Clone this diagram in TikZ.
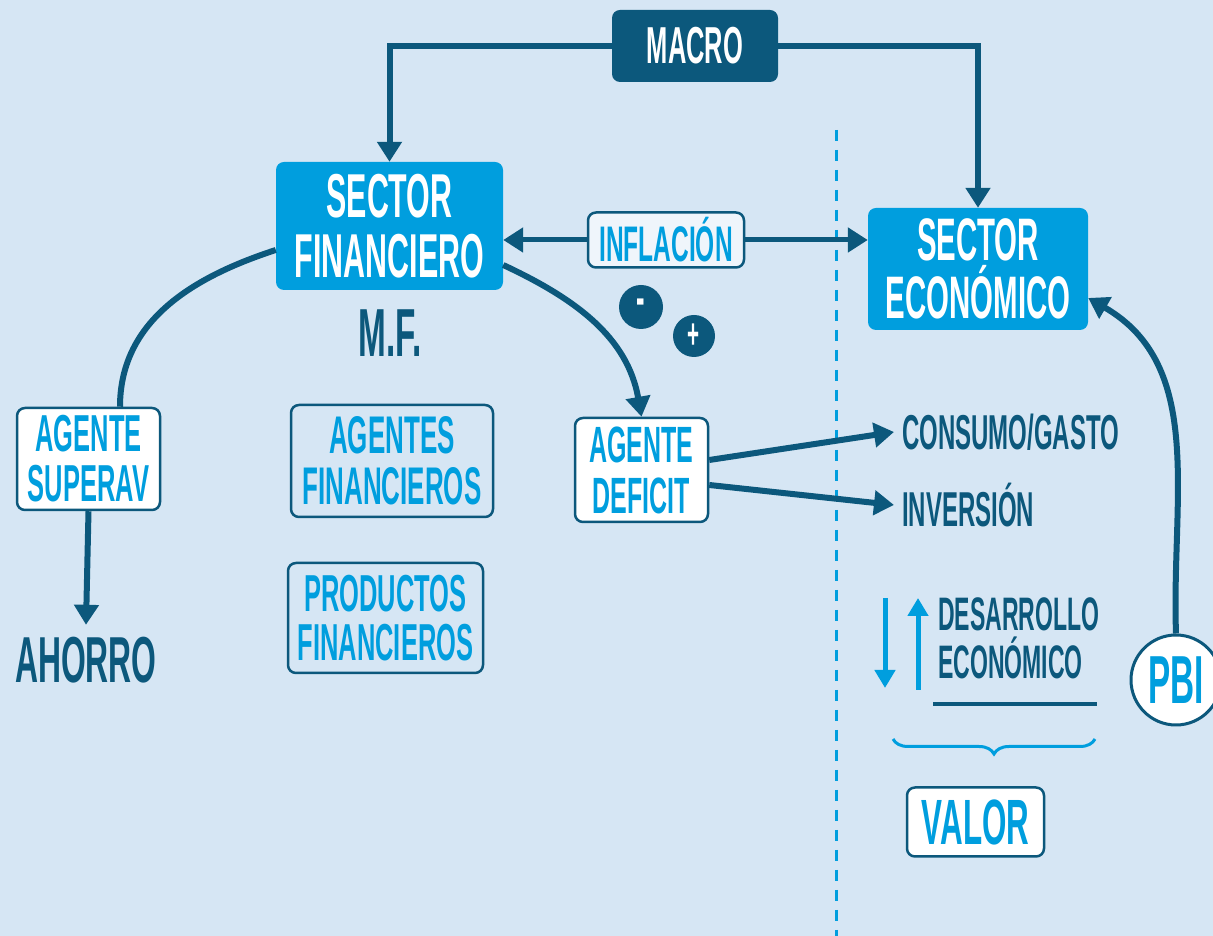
\documentclass[tikz,border=0pt]{standalone}
\usepackage{fontspec}
\setmainfont{Liberation Sans}[FakeStretch=0.49]
\usetikzlibrary{arrows.meta,decorations.pathreplacing,calc}
\definecolor{bgc}{RGB}{214,230,244}
\definecolor{dk}{RGB}{12,88,124}
\definecolor{br}{RGB}{0,158,222}
\newcommand\fs[2]{\fontsize{#1}{#2}\selectfont\bfseries}
\begin{document}
\begin{tikzpicture}[x=1pt,y=1pt,
  conn/.style={draw=dk, line width=6pt, -{Triangle[length=20pt,width=24pt]}},
  plainconn/.style={draw=dk, line width=6pt},
  mbox/.style={fill=dk, rounded corners=8pt, text=white, align=center, inner sep=0pt},
  bbox/.style={fill=br, rounded corners=8pt, text=white, align=center, inner sep=0pt},
  wbox/.style={fill=white, draw=dk, line width=2.5pt, rounded corners=8pt, text=br, align=center, inner sep=0pt},
  ibox/.style={fill=white!60!bgc, draw=dk, line width=2.5pt, rounded corners=8pt, text=br, align=center, inner sep=0pt},
  obox/.style={draw=dk, line width=2.5pt, rounded corners=8pt, text=br, align=center, inner sep=0pt},
  dtext/.style={text=dk, inner sep=0pt},
  circ/.style={circle, fill=dk, text=white, inner sep=0pt},
  bluearrow/.style={draw=br, line width=5pt, -{Triangle[length=18pt,width=20pt]}}
]
\clip (0,0) rectangle (1213,936);
\fill[bgc] (0,0) rectangle (1213,936);

% dashed divider
\coordinate (dtop) at (836,806);
\coordinate (dbot) at (836,0);
\draw[br, line width=3pt, dash pattern=on 11pt off 9pt] (dtop) -- (dbot);

% nodes
\node[mbox, minimum width=166pt, minimum height=72pt, font=\fs{52}{52}] (macro) at (695,890) {MACRO};
\node[bbox, minimum width=227pt, minimum height=128pt, font=\fs{62}{60}] (sf) at (389.5,710) {SECTOR\\FINANCIERO};
\node[bbox, minimum width=220pt, minimum height=122pt, font=\fs{60}{58}] (se) at (978,667) {SECTOR\\ECONÓMICO};
\node[dtext, font=\fs{68}{68}] (mf) at (390,603) {M.F.};
\node[ibox, minimum width=156pt, minimum height=55pt, font=\fs{50}{50}] (infl) at (666,696) {INFLACIÓN};
\node[circ, minimum size=44pt, font=\fs{52}{52}] (minus) at (641,629) {-};
\node[circ, minimum size=42pt, font=\fs{42}{42}] (plus) at (694,600) {+};
\node[wbox, minimum width=143pt, minimum height=102pt, font=\fs{52}{50}] (superav) at (88.5,477) {AGENTE\\SUPERAV};
\node[dtext, font=\fs{65}{65}] (ahorro) at (86,276) {AHORRO};
\node[obox, minimum width=202pt, minimum height=112pt, font=\fs{53}{51}] (agf) at (392,475) {AGENTES\\FINANCIEROS};
\node[obox, minimum width=195pt, minimum height=110pt, font=\fs{52}{49}] (prod) at (385.5,318) {PRODUCTOS\\FINANCIEROS};
\node[wbox, minimum width=133pt, minimum height=104pt, font=\fs{51}{51}] (deficit) at (641.5,466) {AGENTE\\DEFICIT};
\node[dtext, anchor=west, font=\fs{49}{49}] (consumo) at (902,504) {CONSUMO/GASTO};
\node[dtext, anchor=west, font=\fs{49}{49}] (inversion) at (902,431) {INVERSIÓN};
\node[dtext, anchor=west, align=left, font=\fs{47}{48}] (desarrollo) at (938,298) {DESARROLLO\\ECONÓMICO};
\node[wbox, minimum width=137pt, minimum height=69pt, font=\fs{64}{64}] (valor) at (975.5,114) {VALOR};
\node[circle, fill=white, draw=dk, line width=3pt, minimum size=90pt, inner sep=0pt, text=br, font=\fs{68}{68}] (pbi) at (1176,256) {PBI};

% connectors
\draw[conn] (macro.west) -| (sf.north);
\draw[conn] (macro.east) -| (se.north);
\draw[conn, line width=5pt] (infl.west) -- (infl.west -| sf.east);
\draw[conn, line width=5pt] (infl.east) -- (infl.east -| se.west);
\draw[conn] ([yshift=-39pt]sf.east) to[out=-25, in=100] (deficit.north);
\draw[plainconn] ([yshift=-24pt]sf.west) to[out=198, in=90] ([xshift=31.5pt]superav.north);
\draw[conn] (superav.south) -- ([yshift=12pt]ahorro.north);
\draw[conn] ([yshift=10pt]deficit.east) -- ([xshift=-8pt]consumo.west);
\draw[conn] ([yshift=-15pt]deficit.east) -- ([xshift=-8pt]inversion.west);
\draw[conn] (pbi.north) to[out=92, in=-30] ([yshift=-29pt]se.east);

% up/down arrows
\coordinate (dnA) at (885,338);
\coordinate (dnB) at (885,248);
\coordinate (upA) at (918,246);
\coordinate (upB) at (918,338);
\draw[bluearrow] (dnA) -- (dnB);
\draw[bluearrow] (upA) -- (upB);

% underline and brace
\coordinate (ulA) at (933,232);
\coordinate (ulB) at (1097,232);
\draw[dk, line width=4pt] (ulA) -- (ulB);
\coordinate (brA) at (1095,197);
\coordinate (brB) at (893,197);
\draw[br, line width=3pt, decorate, decoration={brace, amplitude=15pt}] (brA) -- (brB);
\end{tikzpicture}
\end{document}
